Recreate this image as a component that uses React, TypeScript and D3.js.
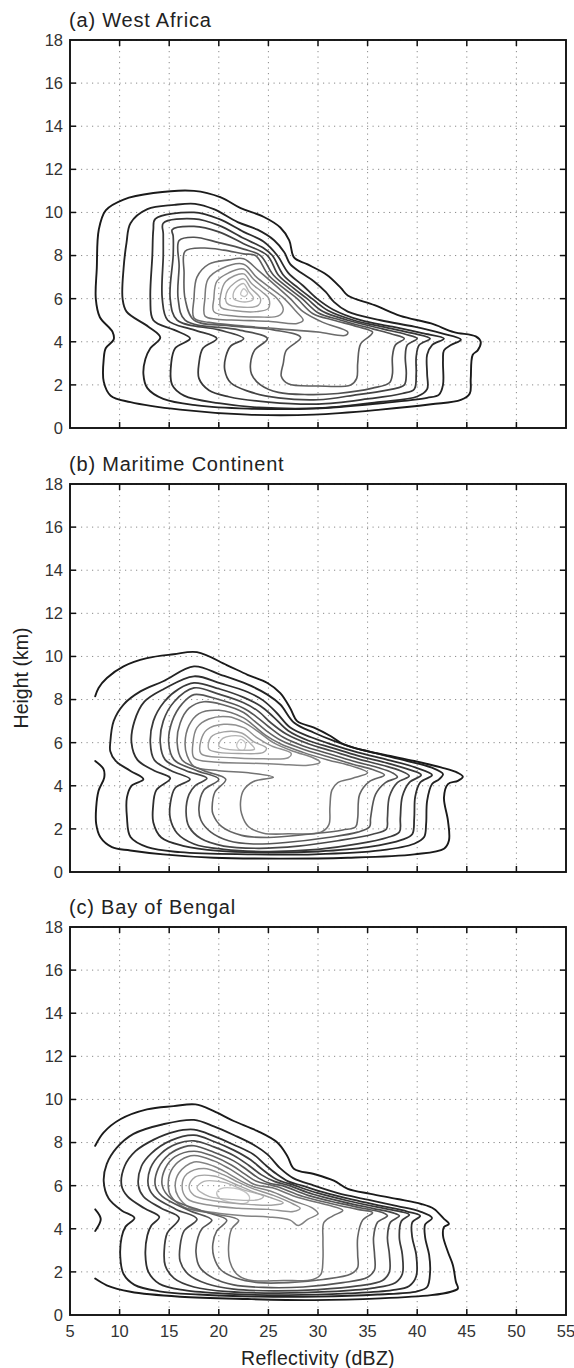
import React from "react";
import * as d3 from "d3";

type Pt = [number, number];
interface Contour { level: number; closed: boolean; points: Pt[] }

const X_TICKS = [5, 10, 15, 20, 25, 30, 35, 40, 45, 50, 55];
const Y_TICKS = [0, 2, 4, 6, 8, 10, 12, 14, 16, 18];
const PANEL_TITLES = ["(a) West Africa", "(b) Maritime Continent", "(c) Bay of Bengal"];
const X_TITLE = "Reflectivity (dBZ)";
const Y_TITLE = "Height (km)";

// (a) West Africa — contours as [dBZ, km]
const westAfrica: Contour[] = [
  { level: 1, closed: true, points: [[17.5,11.0],[20.2,10.7],[22.2,10.2],[24.5,9.8],[26.2,9.3],[27.1,8.7],[27.6,7.9],[28.9,7.6],[30.9,7.1],[32.3,6.5],[33.0,6.15],[35.7,5.7],[38.3,5.2],[41.4,4.85],[43.7,4.45],[45.9,4.25],[46.4,4.0],[46.1,3.6],[45.6,3.4],[45.4,2.3],[45.3,1.6],[44.4,1.3],[41.4,1.1],[36.3,0.85],[29.6,0.62],[22.9,0.62],[16.1,0.85],[11.1,1.2],[9.1,1.5],[8.4,2.15],[8.4,3.2],[8.6,3.7],[9.4,4.1],[9.3,4.45],[8.0,5.15],[7.6,6.0],[7.7,7.4],[7.9,9.2],[8.6,10.1],[10.4,10.6],[13.4,10.9]] },
  { level: 2, closed: true, points: [[11.1,9.5],[12.8,10.15],[15.5,10.35],[17.6,10.4],[19.5,10.15],[21.9,9.55],[23.9,9.2],[25.6,8.7],[26.6,8.15],[27.2,7.6],[28.3,7.2],[29.6,6.8],[30.8,6.3],[31.6,5.85],[33.0,5.4],[36.3,5.0],[39.7,4.7],[42.4,4.4],[44.4,4.1],[43.4,3.85],[42.7,3.6],[42.6,3.1],[42.6,2.0],[42.2,1.55],[41.0,1.4],[36.3,1.15],[29.6,0.9],[22.9,0.9],[17.8,1.05],[14.4,1.35],[12.8,1.85],[12.4,2.5],[12.6,3.2],[13.1,3.7],[14.1,4.2],[12.9,4.7],[10.7,5.4],[10.3,6.0],[10.4,7.4],[10.7,8.6]] },
  { level: 3, closed: true, points: [[13.6,9.7],[17.5,10.0],[20.0,9.7],[22.5,9.1],[24.5,8.65],[25.9,8.0],[27.0,7.2],[28.5,6.6],[29.9,6.0],[31.5,5.5],[34.3,5.0],[37.5,4.7],[40.5,4.4],[42.7,4.15],[41.5,3.85],[41.0,3.4],[41.0,2.5],[41.0,1.8],[40.0,1.46],[36.0,1.2],[30.0,0.92],[24.0,0.95],[20.0,1.15],[16.5,1.5],[15.3,2.0],[15.2,3.0],[15.6,3.7],[17.1,4.15],[15.5,4.55],[13.4,5.0],[13.1,6.0],[13.3,8.0],[13.4,9.2]] },
  { level: 4, closed: true, points: [[14.4,9.5],[17.5,9.7],[20.0,9.4],[22.5,8.8],[24.5,8.35],[25.4,8.0],[26.5,7.1],[28.0,6.5],[29.4,6.0],[31.0,5.45],[33.6,5.0],[37.0,4.65],[39.5,4.4],[41.3,4.15],[40.2,3.85],[39.9,3.3],[39.9,2.5],[39.7,1.8],[38.5,1.6],[35.0,1.35],[30.0,1.11],[25.0,1.2],[21.0,1.45],[19.0,1.75],[18.0,2.3],[18.0,3.0],[18.4,3.7],[19.8,4.15],[17.5,4.55],[14.85,5.0],[14.3,6.0],[14.4,8.0],[14.4,9.0]] },
  { level: 5, closed: true, points: [[15.3,9.2],[17.5,9.35],[20.0,9.1],[22.5,8.55],[24.9,8.0],[26.0,7.1],[27.5,6.5],[28.9,6.0],[30.5,5.4],[33.0,5.0],[36.5,4.6],[38.8,4.35],[40.0,4.15],[39.0,3.85],[38.8,3.3],[38.9,2.5],[38.7,2.0],[37.5,1.8],[34.0,1.55],[30.0,1.31],[26.0,1.4],[23.0,1.7],[21.2,2.1],[20.6,2.7],[20.7,3.3],[21.2,3.8],[22.5,4.15],[20.0,4.55],[15.8,5.0],[15.1,6.0],[15.4,8.0],[15.4,8.9]] },
  { level: 6, closed: true, points: [[16.0,8.7],[17.5,8.85],[20.0,8.6],[22.5,8.3],[24.2,8.0],[25.5,7.1],[27.0,6.5],[28.4,6.0],[30.0,5.35],[32.3,5.0],[35.5,4.6],[37.5,4.35],[38.7,4.15],[37.8,3.85],[37.5,3.3],[37.5,2.5],[37.2,2.1],[35.5,1.85],[32.0,1.6],[29.0,1.55],[26.0,1.65],[24.2,2.0],[23.3,2.5],[23.2,3.0],[23.6,3.6],[24.9,4.15],[22.0,4.55],[16.6,5.0],[15.9,6.0],[16.0,7.5]] },
  { level: 7, closed: true, points: [[16.6,8.2],[18.5,8.35],[20.5,8.25],[22.5,8.08],[23.7,8.0],[25.0,7.1],[26.5,6.5],[27.9,6.0],[29.5,5.3],[31.6,5.0],[34.0,4.7],[35.5,4.45],[35.3,4.3],[34.3,3.9],[34.0,3.0],[33.9,2.3],[33.3,2.0],[30.0,1.95],[27.0,2.05],[26.3,2.4],[26.5,3.0],[26.8,3.6],[28.25,4.2],[25.5,4.55],[21.0,4.75],[17.5,5.0],[16.6,6.0],[16.5,7.2]] },
  { level: 8, closed: true, points: [[17.5,5.1],[17.5,6.0],[17.8,7.0],[19.0,7.6],[21.0,7.8],[22.5,7.85],[24.0,7.3],[25.5,6.7],[27.2,6.0],[28.5,5.4],[30.5,4.9],[33.0,4.45],[32.8,4.3],[30.0,4.45],[26.0,4.6],[22.0,4.75],[19.0,4.9]] },
  { level: 9, closed: true, points: [[18.6,5.2],[18.6,6.0],[18.9,6.9],[20.3,7.4],[22.5,7.6],[23.8,7.0],[25.2,6.5],[26.6,6.0],[27.8,5.4],[28.5,5.0],[27.9,4.85],[25.0,4.95],[22.0,5.0],[19.8,5.05]] },
  { level: 10, closed: true, points: [[19.5,5.4],[19.5,6.0],[19.8,6.8],[21.0,7.2],[22.5,7.38],[23.5,6.9],[24.8,6.4],[25.9,6.0],[26.5,5.5],[26.0,5.2],[24.0,5.15],[21.5,5.2]] },
  { level: 11, closed: true, points: [[20.2,5.6],[20.2,6.2],[20.7,6.8],[22.5,7.15],[23.3,6.7],[24.4,6.3],[25.05,6.0],[25.0,5.55],[23.8,5.4],[21.5,5.45]] },
  { level: 12, closed: true, points: [[20.8,5.8],[20.9,6.4],[22.5,6.92],[23.2,6.5],[24.2,6.0],[24.0,5.7],[22.5,5.6]] },
  { level: 13, closed: true, points: [[21.5,6.0],[21.6,6.4],[22.5,6.7],[23.0,6.35],[23.5,6.0],[22.8,5.85]] },
  { level: 14, closed: true, points: [[22.2,6.2],[22.5,6.46],[22.9,6.25],[22.6,6.1]] },
];

// (b) Maritime Continent
const maritimeContinent: Contour[] = [
  { level: 1, closed: false, points: [[7.54,5.15],[8.38,4.77],[8.45,4.38],[7.88,3.77],[7.64,3.0],[7.64,2.23],[8.05,1.62],[9.23,1.15],[11.08,1.0],[14.4,0.82],[19.5,0.66],[26.2,0.62],[33.0,0.66],[39.7,0.82],[42.7,1.08],[43.2,1.46],[43.1,2.38],[42.7,3.46],[43.1,4.08],[44.1,4.23],[44.6,4.42],[44.1,4.6],[42.4,4.85],[39.7,5.15],[37.3,5.38],[35.0,5.6],[32.6,5.92],[31.3,6.3],[29.6,6.7],[27.9,7.0],[27.2,7.6],[26.2,8.3],[24.9,8.77],[22.9,9.15],[20.8,9.6],[17.8,10.2],[15.45,10.1],[12.76,9.92],[10.4,9.54],[8.72,9.0],[7.88,8.54],[7.54,8.15]] },
  { level: 2, closed: true, points: [[9.06,6.0],[9.4,7.0],[10.4,7.77],[12.1,8.38],[14.4,8.85],[17.5,9.54],[20.2,9.15],[22.9,8.7],[24.9,8.23],[26.2,7.77],[27.6,6.92],[29.6,6.46],[31.6,6.08],[33.6,5.77],[36.3,5.46],[39.0,5.15],[41.4,4.85],[42.6,4.54],[42.2,4.3],[41.5,4.08],[41.0,3.3],[40.9,2.23],[40.7,1.62],[39.7,1.31],[36.3,1.0],[29.6,0.82],[22.9,0.82],[16.1,0.92],[12.8,1.15],[11.1,1.62],[10.74,2.54],[10.74,3.46],[11.2,4.0],[12.4,4.3],[11.1,4.69],[9.6,5.15],[9.06,5.6]] },
  { level: 3, closed: true, points: [[11.2,6.0],[11.5,7.0],[12.5,7.9],[14.5,8.5],[17.5,9.08],[20.2,8.75],[22.9,8.35],[24.5,7.95],[25.8,7.4],[27.2,6.7],[29.3,6.25],[31.5,5.9],[34.0,5.55],[37.0,5.2],[39.8,4.85],[41.5,4.5],[40.3,4.15],[39.8,3.5],[39.7,2.5],[39.5,1.75],[38.5,1.5],[35.0,1.15],[30.0,0.95],[25.0,0.9],[20.0,0.98],[16.5,1.2],[14.2,1.6],[13.4,2.3],[13.37,3.0],[13.7,3.8],[15.1,4.35],[13.5,4.7],[11.8,5.2]] },
  { level: 4, closed: true, points: [[13.1,6.0],[13.4,7.0],[14.5,7.9],[16.0,8.5],[17.5,8.77],[20.0,8.5],[22.5,8.1],[24.2,7.7],[25.5,7.2],[27.0,6.55],[29.0,6.1],[31.5,5.75],[34.0,5.4],[37.0,5.05],[39.2,4.75],[40.4,4.5],[39.2,4.15],[38.5,3.5],[38.3,2.5],[38.2,1.85],[37.0,1.6],[34.0,1.3],[30.0,1.05],[25.0,0.95],[20.5,1.05],[17.5,1.3],[15.8,1.8],[15.1,2.5],[15.12,3.2],[15.6,3.9],[17.1,4.3],[15.2,4.7],[13.5,5.2]] },
  { level: 5, closed: true, points: [[14.1,6.0],[14.4,7.0],[15.5,7.9],[17.5,8.54],[20.0,8.25],[22.5,7.85],[24.0,7.45],[25.3,6.9],[26.8,6.4],[29.0,5.95],[31.5,5.6],[34.0,5.25],[36.5,4.95],[38.3,4.7],[39.2,4.45],[38.0,4.15],[37.2,3.5],[37.0,2.5],[36.9,2.0],[35.5,1.75],[32.0,1.45],[28.0,1.2],[24.0,1.1],[20.5,1.2],[18.2,1.55],[17.0,2.1],[16.7,2.8],[17.0,3.6],[17.6,4.0],[18.8,4.35],[16.7,4.7],[14.6,5.2]] },
  { level: 6, closed: true, points: [[14.95,6.0],[15.3,7.0],[16.3,7.8],[17.5,8.23],[20.0,8.0],[22.5,7.6],[23.8,7.2],[25.0,6.75],[26.5,6.25],[28.5,5.85],[31.0,5.5],[33.5,5.15],[36.0,4.85],[37.5,4.6],[38.0,4.4],[36.8,4.15],[35.8,3.6],[35.3,2.5],[35.2,2.1],[34.0,1.85],[31.0,1.6],[27.0,1.38],[23.5,1.3],[21.0,1.45],[19.2,1.85],[18.2,2.4],[18.0,3.0],[18.5,3.8],[20.0,4.3],[17.8,4.7],[15.5,5.2]] },
  { level: 7, closed: true, points: [[15.8,6.0],[16.1,6.9],[17.0,7.6],[18.5,7.9],[20.5,7.75],[22.5,7.4],[23.6,7.0],[24.8,6.55],[26.3,6.1],[28.5,5.7],[31.0,5.35],[33.5,5.0],[35.5,4.75],[36.7,4.5],[35.2,4.2],[34.2,3.6],[34.0,2.5],[33.8,2.1],[32.5,1.95],[29.0,1.75],[25.0,1.6],[22.3,1.7],[20.3,2.1],[19.4,2.7],[19.33,3.0],[19.6,3.7],[20.7,4.3],[18.5,4.7],[16.3,5.2]] },
  { level: 8, closed: true, points: [[16.6,6.0],[17.0,6.8],[18.0,7.35],[20.0,7.5],[22.5,7.15],[23.5,6.8],[24.7,6.35],[26.2,5.95],[28.5,5.55],[31.0,5.2],[33.5,4.9],[35.0,4.6],[33.5,4.35],[32.0,4.15],[31.4,3.8],[31.2,3.0],[31.1,2.2],[30.3,1.85],[27.0,1.77],[24.5,1.8],[23.0,2.1],[22.3,2.7],[22.2,3.3],[22.5,3.8],[23.5,4.2],[25.5,4.4],[23.0,4.6],[20.0,4.7],[17.5,4.9],[16.8,5.4]] },
  { level: 9, closed: true, points: [[17.5,5.3],[17.4,6.0],[17.8,6.7],[19.0,7.1],[21.0,7.2],[22.5,6.95],[24.0,6.5],[25.5,6.0],[27.5,5.6],[29.5,5.3],[30.2,5.1],[29.0,4.95],[26.0,5.0],[23.0,5.05],[19.5,5.1]] },
  { level: 10, closed: true, points: [[18.2,5.5],[18.2,6.1],[18.8,6.6],[20.5,6.85],[22.5,6.7],[23.8,6.25],[25.3,5.85],[27.3,5.5],[27.0,5.3],[24.5,5.25],[21.5,5.3]] },
  { level: 11, closed: true, points: [[19.0,5.7],[19.2,6.25],[20.5,6.5],[22.3,6.45],[23.5,6.05],[24.8,5.75],[24.5,5.55],[22.0,5.5],[20.0,5.55]] },
  { level: 12, closed: true, points: [[20.0,5.85],[20.4,6.2],[22.2,6.3],[23.2,5.95],[23.6,5.7],[22.2,5.65],[20.8,5.7]] },
  { level: 13, closed: true, points: [[21.8,5.9],[22.2,6.15],[22.7,5.95],[22.5,5.65],[22.0,5.7]] },
];

// (c) Bay of Bengal
const bayOfBengal: Contour[] = [
  { level: 1, closed: false, points: [[7.54,7.85],[8.38,8.46],[10.07,9.08],[12.76,9.54],[15.45,9.69],[17.64,9.77],[19.5,9.46],[21.5,9.0],[23.87,8.54],[25.9,8.0],[26.9,7.38],[27.6,6.77],[29.6,6.54],[31.6,6.23],[33.0,5.85],[35.3,5.62],[38.0,5.38],[40.4,5.15],[41.7,4.92],[42.7,4.46],[43.2,4.23],[42.7,4.08],[42.6,3.69],[43.1,2.92],[43.6,2.31],[43.9,1.54],[44.1,1.23],[43.4,1.08],[41.4,0.92],[36.3,0.77],[29.6,0.69],[22.9,0.74],[16.1,0.85],[11.1,1.08],[8.7,1.38],[7.54,1.69]] },
  { level: 1, closed: false, points: [[7.54,4.9],[8.1,4.45],[7.54,3.9]] },
  { level: 2, closed: true, points: [[8.4,6.2],[8.7,7.0],[9.7,7.75],[11.4,8.4],[14.4,8.85],[17.5,9.05],[19.5,8.75],[21.5,8.35],[23.5,7.9],[24.9,7.45],[26.2,6.8],[27.5,6.35],[29.6,6.0],[32.0,5.65],[35.0,5.35],[38.0,5.05],[40.3,4.8],[41.5,4.5],[40.8,4.2],[40.8,3.6],[41.2,2.8],[41.3,2.0],[41.0,1.3],[40.0,1.1],[36.0,0.95],[30.0,0.85],[24.0,0.85],[18.0,0.95],[14.0,1.1],[11.5,1.4],[10.4,1.9],[10.07,2.7],[10.2,3.6],[10.6,4.1],[11.5,4.5],[10.2,4.85],[8.9,5.4]] },
  { level: 3, closed: true, points: [[10.2,6.0],[10.5,6.9],[11.6,7.6],[13.5,8.15],[15.5,8.5],[17.5,8.6],[19.5,8.3],[21.5,7.9],[23.5,7.45],[24.6,7.0],[25.8,6.55],[27.0,6.2],[28.4,6.0],[30.5,5.7],[33.5,5.35],[36.5,5.05],[39.0,4.8],[40.3,4.6],[39.5,4.3],[39.5,3.6],[39.9,2.8],[39.9,1.8],[39.2,1.35],[37.5,1.15],[33.0,1.0],[27.0,0.92],[21.0,0.98],[16.5,1.15],[14.0,1.45],[12.9,2.0],[12.6,2.8],[12.8,3.7],[13.2,4.15],[14.0,4.55],[12.5,4.95],[10.8,5.5]] },
  { level: 4, closed: true, points: [[11.9,6.0],[12.2,6.9],[13.2,7.5],[15.2,8.1],[17.5,8.34],[19.5,8.05],[21.5,7.65],[23.2,7.2],[24.4,6.75],[25.8,6.3],[27.7,6.0],[30.0,5.65],[33.0,5.3],[36.0,5.0],[38.3,4.8],[39.2,4.65],[38.4,4.35],[38.2,3.6],[38.5,2.8],[38.5,1.9],[37.8,1.5],[35.5,1.25],[31.0,1.08],[26.0,1.02],[21.0,1.08],[17.5,1.3],[15.5,1.7],[14.6,2.3],[14.5,3.0],[14.8,3.8],[16.0,4.5],[14.2,4.95],[12.4,5.5]] },
  { level: 5, closed: true, points: [[12.9,6.0],[13.1,6.8],[14.2,7.5],[15.8,7.95],[17.5,8.08],[19.5,7.8],[21.5,7.4],[23.0,6.95],[24.3,6.5],[25.6,6.2],[27.1,6.0],[29.5,5.6],[32.5,5.25],[35.5,4.95],[37.5,4.75],[38.2,4.6],[37.3,4.3],[37.0,3.6],[37.2,2.8],[37.2,2.0],[36.5,1.6],[34.0,1.35],[30.0,1.18],[25.5,1.12],[21.5,1.2],[18.8,1.45],[16.9,1.9],[16.1,2.5],[16.1,3.2],[16.5,3.9],[17.8,4.45],[15.7,4.9],[13.5,5.5]] },
  { level: 6, closed: true, points: [[13.6,6.0],[13.9,6.8],[15.0,7.45],[16.5,7.8],[17.5,7.85],[19.5,7.55],[21.5,7.15],[22.8,6.75],[24.0,6.35],[25.2,6.1],[26.4,6.0],[29.0,5.55],[32.0,5.2],[34.5,4.95],[36.5,4.75],[37.0,4.6],[36.0,4.3],[35.6,3.6],[35.7,2.8],[35.7,2.1],[35.0,1.75],[32.5,1.5],[28.5,1.3],[24.5,1.28],[21.5,1.4],[19.5,1.7],[18.1,2.2],[17.7,2.9],[17.9,3.6],[18.3,4.0],[19.3,4.4],[17.0,4.85],[14.3,5.5]] },
  { level: 7, closed: true, points: [[14.3,6.0],[14.6,6.8],[15.6,7.35],[17.5,7.6],[19.5,7.35],[21.3,6.95],[22.6,6.55],[23.8,6.2],[25.0,6.05],[25.9,5.95],[28.5,5.5],[31.5,5.15],[34.0,4.9],[35.5,4.75],[34.5,4.4],[34.0,3.6],[34.0,2.8],[34.0,2.2],[33.3,1.9],[30.5,1.65],[27.0,1.5],[24.0,1.5],[21.8,1.7],[20.2,2.1],[19.5,2.7],[19.4,3.3],[19.8,3.9],[20.8,4.4],[18.5,4.8],[15.2,5.4]] },
  { level: 8, closed: true, points: [[14.9,6.0],[15.2,6.7],[16.2,7.2],[17.5,7.4],[19.5,7.15],[21.0,6.8],[22.4,6.4],[23.6,6.05],[25.4,5.9],[28.0,5.45],[31.0,5.1],[32.5,4.85],[31.5,4.6],[30.6,4.3],[30.5,3.5],[30.5,2.6],[30.3,1.9],[29.5,1.65],[26.5,1.6],[23.0,1.62],[21.8,1.9],[21.1,2.5],[21.0,3.3],[21.3,4.0],[22.0,4.4],[19.5,4.7],[16.5,5.0],[15.2,5.5]] },
  { level: 9, closed: true, points: [[15.6,6.0],[16.0,6.6],[17.5,7.1],[19.5,6.9],[21.0,6.55],[22.3,6.2],[23.5,5.95],[25.2,5.75],[27.5,5.3],[29.5,4.95],[30.0,4.7],[29.0,4.45],[28.0,4.15],[27.2,4.4],[25.0,4.55],[22.5,4.6],[19.5,4.75],[17.0,5.0],[15.9,5.5]] },
  { level: 10, closed: true, points: [[16.3,6.0],[16.8,6.55],[18.5,6.8],[20.5,6.5],[22.0,6.15],[23.5,5.85],[25.5,5.55],[27.5,5.15],[28.2,4.95],[27.5,4.8],[25.0,4.9],[22.0,4.95],[19.0,5.1],[16.8,5.4]] },
  { level: 11, closed: true, points: [[17.0,5.95],[17.6,6.4],[19.5,6.45],[21.5,6.1],[23.3,5.75],[25.5,5.4],[26.5,5.2],[25.5,5.1],[22.5,5.15],[19.5,5.3],[17.5,5.55]] },
  { level: 12, closed: true, points: [[17.8,5.9],[18.5,6.2],[20.5,6.15],[22.5,5.8],[24.5,5.5],[24.0,5.35],[21.5,5.35],[19.0,5.5]] },
  { level: 13, closed: true, points: [[19.8,5.7],[20.5,5.9],[22.5,5.75],[23.1,5.45],[22.8,5.2],[21.0,5.25],[20.0,5.45]] },
];

const PANEL_DATA = [westAfrica, maritimeContinent, bayOfBengal];

const W = 574;
const H = 1368;
const LEFT = 70;
const RIGHT = 566;
const TOPS = [40, 484, 927];
const PH = 388;
const FONT = "'Liberation Sans', Arial, Helvetica, sans-serif";

export default function App() {
  const x = d3.scaleLinear().domain([5, 55]).range([LEFT, RIGHT]);
  return (
    <svg width={W} height={H} style={{ position: "absolute", left: 0, top: 0, background: "#fff" }} fontFamily={FONT}>
      <rect x={0} y={0} width={W} height={H} fill="#fff" />
      {PANEL_DATA.map((contours, pi) => {
        const top = TOPS[pi];
        const bottom = top + PH;
        const y = d3.scaleLinear().domain([0, 18]).range([bottom, top]);
        const maxLevel = d3.max(contours, (c) => c.level) as number;
        const shade = (lvl: number) => {
          const t = (lvl - 1) / (maxLevel - 1);
          return d3.interpolateRgb("#1a1a1a", "#c4c4c4")(Math.pow(t, 1.2));
        };
        const widthOf = (lvl: number) => 1.9 - 0.6 * ((lvl - 1) / (maxLevel - 1));
        const closedLine = d3.line<Pt>().x((d) => x(d[0])).y((d) => y(d[1])).curve(d3.curveCatmullRomClosed.alpha(0.5));
        const openLine = d3.line<Pt>().x((d) => x(d[0])).y((d) => y(d[1])).curve(d3.curveCatmullRom.alpha(0.5));
        const clipId = `clip-${pi}`;
        return (
          <g key={pi}>
            <defs>
              <clipPath id={clipId}>
                <rect x={LEFT} y={top} width={RIGHT - LEFT} height={PH} />
              </clipPath>
            </defs>
            {X_TICKS.slice(1, -1).map((t) => (
              <line key={`gx${t}`} x1={x(t)} x2={x(t)} y1={top} y2={bottom} stroke="#8a8a8a" strokeWidth={1} strokeDasharray="1.2 4.3" />
            ))}
            {Y_TICKS.slice(1).map((t) => (
              <line key={`gy${t}`} x1={LEFT} x2={RIGHT} y1={y(t)} y2={y(t)} stroke="#8a8a8a" strokeWidth={1} strokeDasharray="1.2 4.3" />
            ))}
            <g clipPath={`url(#${clipId})`} fill="none" strokeLinejoin="round" strokeLinecap="round">
              {contours
                .slice()
                .sort((a, b) => b.level - a.level)
                .map((c, ci) => (
                  <path
                    key={ci}
                    d={(c.closed ? closedLine(c.points) : openLine(c.points)) || ""}
                    stroke={shade(c.level)}
                    strokeWidth={widthOf(c.level)}
                  />
                ))}
            </g>
            {X_TICKS.slice(1, -1).map((t) => (
              <g key={`tx${t}`}>
                <line x1={x(t)} x2={x(t)} y1={bottom} y2={bottom - 6} stroke="#111" strokeWidth={1.5} />
                <line x1={x(t)} x2={x(t)} y1={top} y2={top + 6} stroke="#111" strokeWidth={1.5} />
              </g>
            ))}
            {Y_TICKS.slice(1, -1).map((t) => (
              <g key={`ty${t}`}>
                <line x1={LEFT} x2={LEFT + 6} y1={y(t)} y2={y(t)} stroke="#111" strokeWidth={1.5} />
                <line x1={RIGHT} x2={RIGHT - 6} y1={y(t)} y2={y(t)} stroke="#111" strokeWidth={1.5} />
              </g>
            ))}
            <rect x={LEFT} y={top} width={RIGHT - LEFT} height={PH} fill="none" stroke="#111" strokeWidth={1.9} />
            {Y_TICKS.map((t) => (
              <text key={`yl${t}`} x={LEFT - 7} y={y(t)} dy="0.36em" textAnchor="end" fontSize={16.5} fill="#333">
                {t}
              </text>
            ))}
            <text x={LEFT - 1} y={top - 13} fontSize={20} letterSpacing={0.8} fill="#222">
              {PANEL_TITLES[pi]}
            </text>
            {pi === 2 &&
              X_TICKS.map((t) => (
                <text key={`xl${t}`} x={x(t)} y={bottom + 22} textAnchor="middle" fontSize={16.5} fill="#333">
                  {t}
                </text>
              ))}
          </g>
        );
      })}
      <text x={(LEFT + RIGHT) / 2} y={1365} textAnchor="middle" fontSize={19.5} letterSpacing={0.3} fill="#222">
        {X_TITLE}
      </text>
      <text transform={`translate(28, ${TOPS[1] + PH / 2}) rotate(-90)`} textAnchor="middle" fontSize={19.5} fill="#222">
        {Y_TITLE}
      </text>
    </svg>
  );
}
